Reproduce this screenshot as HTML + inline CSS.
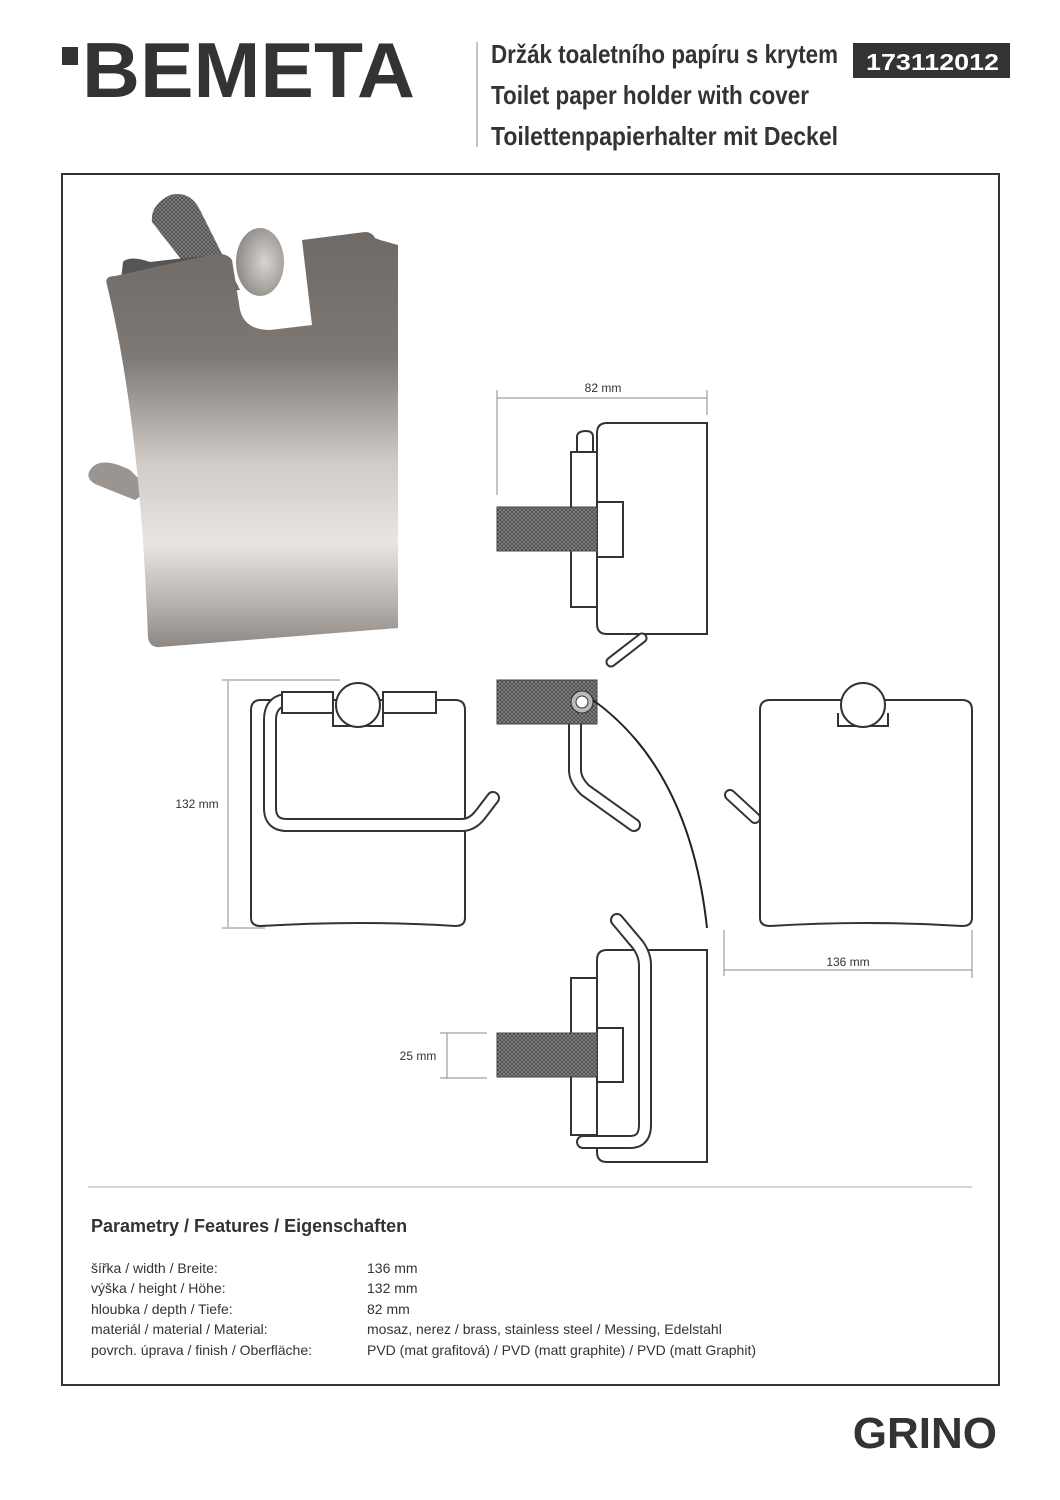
<!DOCTYPE html>
<html><head><meta charset="utf-8"><style>
html,body{margin:0;padding:0;background:#fff}
svg{display:block}
text{font-family:"Liberation Sans",sans-serif;fill:#333}
</style></head><body>
<svg width="1060" height="1500" viewBox="0 0 1060 1500" xmlns="http://www.w3.org/2000/svg">
<defs>
<pattern id="kn" width="4" height="4" patternUnits="userSpaceOnUse">
<rect width="4" height="4" fill="#8a8a8a"/>
<path d="M0 0L4 4M4 0L0 4" stroke="#4a4a4a" stroke-width="0.9"/>
</pattern>
<linearGradient id="cv" x1="0" y1="0" x2="0" y2="1">
<stop offset="0" stop-color="#6f6a66"/>
<stop offset="0.3" stop-color="#7e7874"/>
<stop offset="0.55" stop-color="#cfcac6"/>
<stop offset="0.75" stop-color="#e8e5e2"/>
<stop offset="0.9" stop-color="#b5b0ab"/>
<stop offset="1" stop-color="#8d8883"/>
</linearGradient>
<linearGradient id="kg" x1="0" y1="0" x2="1" y2="0">
<stop offset="0" stop-color="#666"/><stop offset="1" stop-color="#888"/>
</linearGradient>
<radialGradient id="cap" cx="0.6" cy="0.5" r="0.6">
<stop offset="0" stop-color="#d8d5d2"/><stop offset="1" stop-color="#8f8a86"/>
</radialGradient>
</defs>

<!-- header -->
<rect x="62" y="47" width="16" height="18" fill="#333"/>
<text x="82" y="97" font-size="78" font-weight="bold" textLength="333" lengthAdjust="spacingAndGlyphs">BEMETA</text>
<line x1="477" y1="42" x2="477" y2="147" stroke="#888" stroke-width="1"/>
<text x="491" y="63" font-size="26" font-weight="bold" textLength="347" lengthAdjust="spacingAndGlyphs">Držák toaletního papíru s krytem</text>
<text x="491" y="104" font-size="26" font-weight="bold" textLength="318" lengthAdjust="spacingAndGlyphs">Toilet paper holder with cover</text>
<text x="491" y="145" font-size="26" font-weight="bold" textLength="347" lengthAdjust="spacingAndGlyphs">Toilettenpapierhalter mit Deckel</text>
<rect x="853" y="43" width="157" height="35" fill="#333"/>
<text x="866" y="70" font-size="23" font-weight="bold" style="fill:#fff" textLength="133" lengthAdjust="spacingAndGlyphs">173112012</text>

<!-- frame -->
<rect x="62" y="174" width="937" height="1211" fill="none" stroke="#333" stroke-width="2"/>

<!-- photo -->
<path d="M90 470 Q85 478 95 484 L135 500 L150 490 L130 470 Q100 455 90 470Z" fill="#9a9591"/>
<path d="M152 222 Q150 205 170 195 Q190 190 200 210 L240 290 L205 290Z" fill="url(#kn)"/>
<path d="M123 262 Q130 255 150 262 L210 255 L215 290 L120 290Z" fill="#555"/>
<path d="M107 285 Q104 276 115 276 L205 256 Q225 250 232 260 L240 310 Q245 330 270 330 L312 325 L302 240 L365 232 Q372 232 375 238 L380 240 L398 245 L398 628 L160 647 Q150 648 148 638 Q140 420 107 285Z" fill="url(#cv)"/>
<ellipse cx="260" cy="262" rx="24" ry="34" fill="url(#cap)"/>

<!-- top side view -->
<line x1="497" y1="398" x2="707" y2="398" stroke="#888" stroke-width="1"/>
<line x1="497" y1="390" x2="497" y2="495" stroke="#888"/>
<line x1="707" y1="390" x2="707" y2="415" stroke="#888"/>
<text x="603" y="392" font-size="12" text-anchor="middle">82 mm</text>
<g fill="none" stroke="#333" stroke-width="2">
<path d="M597 433 Q597 423 607 423 L707 423 L707 634 L607 634 Q597 634 597 624Z" fill="#fff"/>
<path d="M597 452 L571 452 L571 607 L597 607"/>
<path d="M577 452 L577 437 Q577 431 586 431 Q593 431 593 437 L593 452"/>
<rect x="597" y="502" width="26" height="55" fill="#fff"/>
<path d="M642 638 L611 662" stroke-width="11" stroke-linecap="round"/>
<path d="M642 638 L611 662" stroke="#fff" stroke-width="7" stroke-linecap="round"/>
</g>
<rect x="497" y="507" width="100" height="44" fill="url(#kn)" stroke="#444"/>

<!-- middle side view -->
<path d="M575 724 L575 770 Q575 780 585 790 L634 825" fill="none" stroke="#333" stroke-width="14" stroke-linecap="round"/>
<path d="M575 724 L575 770 Q575 780 585 790 L634 825" fill="none" stroke="#fff" stroke-width="10" stroke-linecap="round"/>
<rect x="497" y="680" width="100" height="44" fill="url(#kn)" stroke="#444"/>
<circle cx="582" cy="702" r="11" fill="#bbb" stroke="#333"/>
<circle cx="582" cy="702" r="6" fill="#fff" stroke="#333"/>
<path d="M593 700 Q690 770 707 928" fill="none" stroke="#222" stroke-width="2"/>

<!-- bottom side view -->
<g fill="none" stroke="#333" stroke-width="2">
<path d="M597 960 Q597 950 607 950 L707 950 L707 1162 L607 1162 Q597 1162 597 1152Z" fill="#fff"/>
<path d="M597 978 L571 978 L571 1135 L597 1135"/>
<rect x="597" y="1028" width="26" height="54" fill="#fff"/>
</g>
<path d="M617 920 L638 945 Q645 955 645 965 L645 1125 Q645 1142 630 1142 L583 1142" fill="none" stroke="#333" stroke-width="14" stroke-linecap="round"/>
<path d="M617 920 L638 945 Q645 955 645 965 L645 1125 Q645 1142 630 1142 L583 1142" fill="none" stroke="#fff" stroke-width="10" stroke-linecap="round"/>
<rect x="497" y="1033" width="100" height="44" fill="url(#kn)" stroke="#444"/>
<line x1="440" y1="1033" x2="487" y2="1033" stroke="#888"/>
<line x1="440" y1="1078" x2="487" y2="1078" stroke="#888"/>
<line x1="447" y1="1033" x2="447" y2="1078" stroke="#888"/>
<text x="418" y="1060" font-size="12" text-anchor="middle">25 mm</text>

<!-- front view left -->
<line x1="222" y1="680" x2="340" y2="680" stroke="#888"/>
<line x1="222" y1="928" x2="265" y2="928" stroke="#888"/>
<line x1="228" y1="681" x2="228" y2="927" stroke="#888"/>
<text x="197" y="808" font-size="12" text-anchor="middle">132 mm</text>
<g fill="none" stroke="#333" stroke-width="2">
<path d="M251 710 Q251 700 261 700 L455 700 Q465 700 465 710 L465 918 Q465 926 455 926 Q360 920 261 926 Q251 926 251 918Z" fill="#fff"/>
</g>
<path d="M281 701 Q270 705 270 720 L270 808 Q270 825 287 825 L462 825 Q472 825 480 815 L493 798" fill="none" stroke="#333" stroke-width="14" stroke-linecap="round"/>
<path d="M281 701 Q270 705 270 720 L270 808 Q270 825 287 825 L462 825 Q472 825 480 815 L493 798" fill="none" stroke="#fff" stroke-width="10" stroke-linecap="round"/>
<g fill="#fff" stroke="#333" stroke-width="2">
<rect x="282" y="692" width="51" height="21"/>
<rect x="383" y="692" width="53" height="21"/>
<path d="M333 713 L333 726 L383 726 L383 713"/>
<circle cx="358" cy="705" r="22"/>
</g>

<!-- front view right -->
<path d="M730 795 L755 818" fill="none" stroke="#333" stroke-width="12" stroke-linecap="round"/>
<path d="M730 795 L755 818" fill="none" stroke="#fff" stroke-width="8" stroke-linecap="round"/>
<g fill="#fff" stroke="#333" stroke-width="2">
<path d="M760 710 Q760 700 770 700 L962 700 Q972 700 972 710 L972 918 Q972 926 962 926 Q866 920 770 926 Q760 926 760 918Z"/>
<path d="M838 713 L838 726 L888 726 L888 713"/>
<circle cx="863" cy="705" r="22"/>
</g>
<line x1="724" y1="930" x2="724" y2="976" stroke="#888"/>
<line x1="972" y1="930" x2="972" y2="978" stroke="#888"/>
<line x1="724" y1="970" x2="972" y2="970" stroke="#888"/>
<text x="848" y="966" font-size="12" text-anchor="middle">136 mm</text>

<!-- features -->
<line x1="88" y1="1187" x2="972" y2="1187" stroke="#aaa"/>
<text x="91" y="1232" font-size="18" font-weight="bold">Parametry / Features / Eigenschaften</text>
<g font-size="14">
<text x="91" y="1273">šířka / width / Breite:</text><text x="367" y="1273">136 mm</text>
<text x="91" y="1293">výška / height / Höhe:</text><text x="367" y="1293">132 mm</text>
<text x="91" y="1314">hloubka / depth / Tiefe:</text><text x="367" y="1314">82 mm</text>
<text x="91" y="1334">materiál / material / Material:</text><text x="367" y="1334">mosaz, nerez / brass, stainless steel / Messing, Edelstahl</text>
<text x="91" y="1355">povrch. úprava / finish / Oberfläche:</text><text x="367" y="1355">PVD (mat grafitová) / PVD (matt graphite) / PVD (matt Graphit)</text>
</g>
<text x="997" y="1448" font-size="44" font-weight="bold" text-anchor="end">GRINO</text>
</svg>
</body></html>
